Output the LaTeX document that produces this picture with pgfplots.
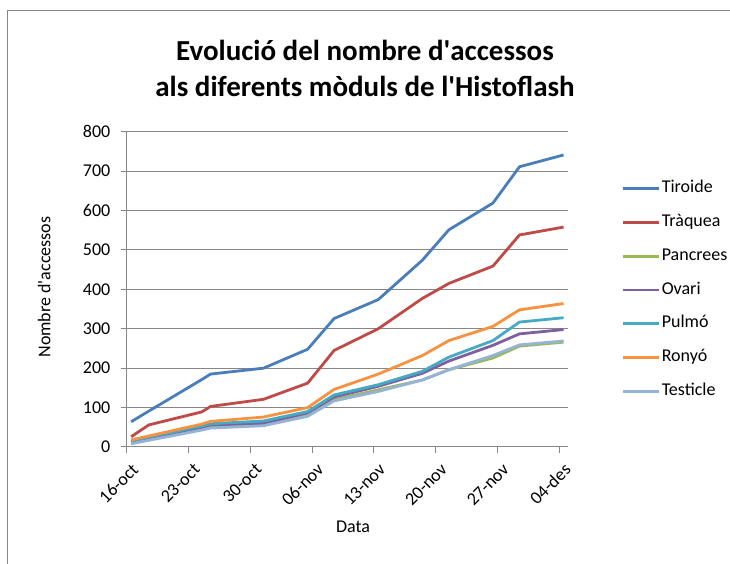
\documentclass[border=0pt]{standalone}
\usepackage{fontspec}
\setmainfont{Carlito}
\usepackage{pgfplots}
\usepackage{pgfplotstable}
\pgfplotsset{compat=1.18}
\definecolor{cTir}{HTML}{4A7EBB}
\definecolor{cTra}{HTML}{BE4B48}
\definecolor{cPan}{HTML}{98B954}
\definecolor{cOva}{HTML}{7D60A0}
\definecolor{cPul}{HTML}{46AAC5}
\definecolor{cRon}{HTML}{F69240}
\definecolor{cTes}{HTML}{95B3D7}
\definecolor{gridc}{HTML}{878787}

\pgfplotstableread{
x Tir Tra Pan Ova Pul Ron Tes
0.5 64 26 12 13 15 18 8
2.5 91 56 22 23 25 28 17
8.5 171 89 48 50 53 58 43
9.5 185 103 52 56 59 65 48
15.5 200 121 58 60 66 76 54
20.5 248 162 82 87 90 100 78
23.5 326 245 120 127 132 146 117
28.5 374 300 145 154 158 185 141
33.5 474 377 170 187 192 232 170
36.5 551 415 196 218 228 270 196
41.5 619 459 226 258 270 306 232
44.5 711 538 256 287 317 348 259
49.5 741 558 266 298 328 364 269
}\data

\begin{document}
\begin{tikzpicture}
\path[use as bounding box, fill=white] (-126.7pt,-117pt) rectangle (603.3pt,447pt);
\draw[gridc, line width=1pt] (-118.7pt,-117pt) -- (-118.7pt,436pt) -- (603.3pt,436pt);
\begin{axis}[
  scale only axis, width=441.3pt, height=315.3pt,
  at={(0pt,0pt)}, anchor=south west,
  xmin=0, xmax=50, ymin=0, ymax=800,
  xtick={0,7,14,21,28,35,42,49},
  xticklabels={16-oct,23-oct,30-oct,06-nov,13-nov,20-nov,27-nov,04-des},
  ytick={0,100,...,800},
  axis lines=left, axis line style={-, draw=gridc, line width=1pt},
  tick align=outside, major tick length=6pt,
  tick style={draw=gridc, line width=1pt},
  ymajorgrids, grid style={draw=gridc, line width=1pt},
  /pgf/number format/assume math mode=true,
  tick label style={font=\fontsize{18}{21}\selectfont},
  yticklabel style={xshift=-6.8pt},
  xticklabel style={xshift=8.5pt, yshift=-13.5pt, rotate=45, anchor=east, inner sep=0pt},
  xlabel={Data}, ylabel={Nombre d\textquotesingle accessos},
  every axis x label/.style={at={(axis description cs:0.513,-0.254)}, anchor=center, font=\fontsize{18}{21}\selectfont},
  every axis y label/.style={at={(axis description cs:-0.187,0.507)}, rotate=90, anchor=center, font=\fontsize{18}{21}\selectfont},
  legend cell align=left,
  legend image code/.code={\draw[#1] (0pt,0pt) -- (35.6pt,0pt);},
  legend style={at={(axis description cs:1.1217,0.8466)}, anchor=north west,
    draw=none, fill=none, inner sep=0pt, row sep=17.3pt, column sep=1.5pt,
    font=\fontsize{18}{21}\selectfont,
    nodes={inner sep=0pt, text height=12.5pt, text depth=4pt}},
  every axis plot/.append style={line width=2.8pt, line join=round},
]
\addplot[cTir] table[x=x,y=Tir]{\data}; \addlegendentry{Tiroide}
\addplot[cTra] table[x=x,y=Tra]{\data}; \addlegendentry{Tràquea}
\addplot[cPan] table[x=x,y=Pan]{\data}; \addlegendentry{Pancrees}
\addplot[cOva] table[x=x,y=Ova]{\data}; \addlegendentry{Ovari}
\addplot[cPul] table[x=x,y=Pul]{\data}; \addlegendentry{Pulmó}
\addplot[cRon] table[x=x,y=Ron]{\data}; \addlegendentry{Ronyó}
\addplot[cTes] table[x=x,y=Tes]{\data}; \addlegendentry{Testicle}
\end{axis}
\node[font=\fontsize{29}{34}\selectfont\bfseries, anchor=base] at (238.3pt,386pt) {Evolució del nombre d\textquotesingle accessos};
\node[font=\fontsize{29}{34}\selectfont\bfseries, anchor=base] at (238.3pt,350.2pt) {als diferents mòduls de l\textquotesingle Histoflash};
\end{tikzpicture}
\end{document}
